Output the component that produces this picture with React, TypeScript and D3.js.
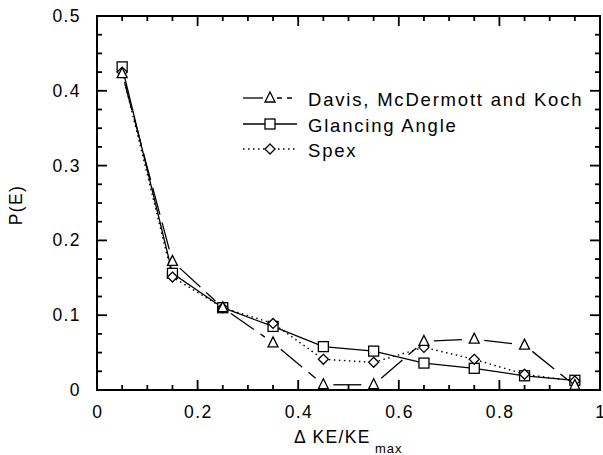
import React from 'react';
import * as d3 from 'd3';

// data
const energies = [0.05, 0.15, 0.25, 0.35, 0.45, 0.55, 0.65, 0.75, 0.85, 0.95];
const davis = [0.423, 0.172, 0.11, 0.063, 0.007, 0.007, 0.065, 0.068, 0.06, 0.006];
const glancing = [0.432, 0.156, 0.11, 0.085, 0.058, 0.052, 0.036, 0.029, 0.019, 0.013];
const spex = [0.425, 0.151, 0.11, 0.089, 0.041, 0.037, 0.057, 0.041, 0.021, 0.012];
const xTickLabels = ['0', '0.2', '0.4', '0.6', '0.8', '1'];
const yTickLabels = ['0', '0.1', '0.2', '0.3', '0.4', '0.5'];
const legendNames = ['Davis, McDermott and Koch', 'Glancing Angle', 'Spex'];

const W = 603;
const H = 455;
const FONT = 'Liberation Sans, Arial, Helvetica, sans-serif';

const x = d3.scaleLinear().domain([0, 1]).range([97, 600]);
const y = d3.scaleLinear().domain([0, 0.5]).range([390, 16]);

function Marker({ kind, cx, cy }: { kind: string; cx: number; cy: number }) {
  const s = 5;
  if (kind === 'tri') {
    const p = `${cx},${cy - s - 1} ${cx - s},${cy + s - 1} ${cx + s},${cy + s - 1}`;
    return <polygon points={p} fill="white" stroke="black" strokeWidth={1.3} />;
  }
  if (kind === 'sq') {
    return <rect x={cx - s} y={cy - s} width={s * 2} height={s * 2} fill="white" stroke="black" strokeWidth={1.3} />;
  }
  const p = `${cx},${cy - s} ${cx + s},${cy} ${cx},${cy + s} ${cx - s},${cy}`;
  return <polygon points={p} fill="white" stroke="black" strokeWidth={1.3} />;
}

// Davis line: one dash per segment, trimmed away from the markers
function dashedSegments(vals: number[]) {
  const segs = [];
  for (let i = 0; i < vals.length - 1; i++) {
    const x1 = x(energies[i]), y1 = y(vals[i]);
    const x2 = x(energies[i + 1]), y2 = y(vals[i + 1]);
    const len = Math.hypot(x2 - x1, y2 - y1);
    const t = 10 / len;
    segs.push(
      <line
        key={i}
        x1={x1 + (x2 - x1) * t}
        y1={y1 + (y2 - y1) * t}
        x2={x2 - (x2 - x1) * t}
        y2={y2 - (y2 - y1) * t}
        stroke="black"
        strokeWidth={1.3}
        strokeDasharray="28,8"
      />
    );
  }
  return segs;
}

export default function App() {
  const line = d3
    .line<number>()
    .x((d, i) => x(energies[i]))
    .y((d) => y(d));

  const xMinor = d3.range(0, 1.0001, 0.05);
  const yMinor = d3.range(0, 0.5001, 0.025);
  const x0 = x(0), x1 = x(1), y0 = y(0), y1 = y(0.5);

  const isMajorX = (v: number) => Math.abs(v * 5 - Math.round(v * 5)) < 1e-6;
  const isMajorY = (v: number) => Math.abs(v * 10 - Math.round(v * 10)) < 1e-6;

  return (
    <svg width={W} height={H} style={{ position: 'absolute', left: 0, top: 0, background: 'white' }}>
      <rect width={W} height={H} fill="white" />

      {/* ticks on all four sides */}
      {xMinor.map((v, i) => {
        const len = isMajorX(v) ? 10 : 5;
        return (
          <g key={'xt' + i} stroke="black" strokeWidth={1.8}>
            <line x1={x(v)} x2={x(v)} y1={y0} y2={y0 - len} />
            <line x1={x(v)} x2={x(v)} y1={y1} y2={y1 + len} />
          </g>
        );
      })}
      {yMinor.map((v, i) => {
        const len = isMajorY(v) ? 10 : 5;
        return (
          <g key={'yt' + i} stroke="black" strokeWidth={1.8}>
            <line x1={x0} x2={x0 + len} y1={y(v)} y2={y(v)} />
            <line x1={x1} x2={x1 - len} y1={y(v)} y2={y(v)} />
          </g>
        );
      })}
      <rect x={x0} y={y1} width={x1 - x0} height={y0 - y1} fill="none" stroke="black" strokeWidth={2} />

      {/* tick labels */}
      {xTickLabels.map((t, i) => (
        <text key={'xl' + i} x={x(i * 0.2) + 0.7} y={418} textAnchor="middle" fontFamily={FONT} fontSize={17.5} letterSpacing={1.4}>
          {t}
        </text>
      ))}
      {yTickLabels.map((t, i) => (
        <text key={'yl' + i} x={81} y={y(i * 0.1) + 6} textAnchor="end" fontFamily={FONT} fontSize={17.5} letterSpacing={1.4}>
          {t}
        </text>
      ))}

      {/* axis titles */}
      <text x={294} y={443} fontFamily={FONT} fontSize={17.5} letterSpacing={1.4}>
        Δ KE/KE
      </text>
      <text x={375} y={453} fontFamily={FONT} fontSize={13} letterSpacing={1}>
        max
      </text>
      <text
        transform={`translate(22, 205) rotate(-90)`}
        textAnchor="middle"
        fontFamily={FONT}
        fontSize={17.5}
        letterSpacing={1.4}
      >
        P(E)
      </text>

      {/* series */}
      {dashedSegments(davis)}
      <path d={line(glancing) || ''} fill="none" stroke="black" strokeWidth={1.3} />
      <path d={line(spex) || ''} fill="none" stroke="black" strokeWidth={1.4} strokeDasharray="1.5,3.5" />

      {glancing.map((v, i) => (
        <Marker key={'g' + i} kind="sq" cx={x(energies[i])} cy={y(v)} />
      ))}
      {spex.map((v, i) => (
        <Marker key={'s' + i} kind="dia" cx={x(energies[i])} cy={y(v)} />
      ))}
      {davis.map((v, i) => (
        <Marker key={'d' + i} kind="tri" cx={x(energies[i])} cy={y(v)} />
      ))}

      {/* legend */}
      <g>
        <line x1={243} x2={263} y1={98} y2={98} stroke="black" strokeWidth={1.3} />
        <line x1={277} x2={297} y1={98} y2={98} stroke="black" strokeWidth={1.3} strokeDasharray="5,5" />
        <Marker kind="tri" cx={270} cy={98} />
        <text x={308} y={106} fontFamily={FONT} fontSize={18.5} letterSpacing={1.8}>{legendNames[0]}</text>

        <line x1={243} x2={297} y1={124} y2={124} stroke="black" strokeWidth={1.3} />
        <Marker kind="sq" cx={270} cy={124} />
        <text x={308} y={132} fontFamily={FONT} fontSize={18.5} letterSpacing={1.8}>{legendNames[1]}</text>

        <line x1={243} x2={297} y1={149} y2={149} stroke="black" strokeWidth={1.4} strokeDasharray="1.5,3.5" />
        <Marker kind="dia" cx={270} cy={149} />
        <text x={308} y={157} fontFamily={FONT} fontSize={18.5} letterSpacing={1.8}>{legendNames[2]}</text>
      </g>
    </svg>
  );
}
